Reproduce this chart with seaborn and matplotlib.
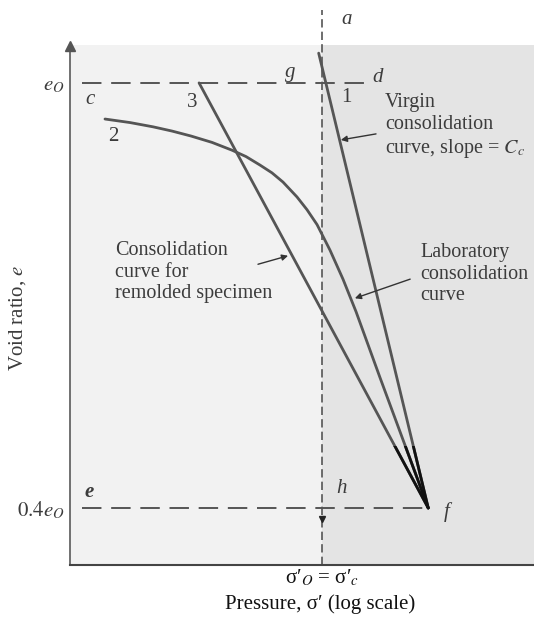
import numpy as np
import pandas as pd
import matplotlib
matplotlib.use("Agg")
import matplotlib.pyplot as plt
import seaborn as sns
from matplotlib.patches import Rectangle

# values (pressure in log scale, void ratio e0 = 1)
e0 = 1.0
e_low = 0.4 * e0
sig_c = 122
p_f = 350

lab_p = [14.15, 18.14, 22.79, 27.53, 33.23, 40.94, 49.93, 57.37, 65.92, 74.25,
         82.82, 95.15, 105.1, 116.1, 132.0, 150.2, 171.0, 216.9, p_f]
lab_e = [0.949, 0.944, 0.938, 0.932, 0.925, 0.916, 0.905, 0.896, 0.884, 0.873,
         0.860, 0.839, 0.821, 0.800, 0.764, 0.723, 0.677, 0.584, e_low]

virgin_p = [118, p_f]
virgin_e = [1.042, e_low]

remold_p = [36, p_f]
remold_e = [e0, e_low]

ytick_vals = [e_low, e0]
ytick_labels = ["$0.4e_O$", "$e_O$"]

sns.set_theme(style="white")
plt.rcParams["font.family"] = ["Liberation Serif", "DejaVu Serif"]
plt.rcParams["mathtext.fontset"] = "stix"

INK = "#3c3c3c"
LINE = "#555555"

fig = plt.figure(figsize=(5.34, 6.21), dpi=100)
ax = fig.add_axes([70 / 534, 1 - 565 / 621, 464 / 534, 565 / 621])
ax.set_xscale("log")
ax.set_xlim(10, 1000)
ax.set_ylim(0.3195, 1.117)
ax.set_facecolor("white")

# scanned stipple shading
ax.axvspan(10, sig_c, ymin=0, ymax=0.92, color="#f2f2f2", lw=0, zorder=0)
ax.axvspan(sig_c, 1000, ymin=0, ymax=0.92, color="#e4e4e4", lw=0, zorder=0)

curves = pd.concat([
    pd.DataFrame({"p": lab_p, "e": lab_e, "curve": "lab"}),
    pd.DataFrame({"p": virgin_p, "e": virgin_e, "curve": "virgin"}),
    pd.DataFrame({"p": remold_p, "e": remold_e, "curve": "remold"}),
])
for name, g in curves.groupby("curve"):
    sns.lineplot(data=g, x="p", y="e", ax=ax, color=LINE, lw=2.0,
                 sort=False, estimator=None, legend=False, zorder=3)
    # darker bits near f
    sns.lineplot(data=g, x="p", y="e", ax=ax, color="#111111", lw=2.0,
                 sort=False, estimator=None, legend=False, zorder=4)
clip = Rectangle((10, 0.3), 990, 0.187, transform=ax.transData, fill=False, lw=0)
for ln in ax.lines[1::2]:
    ln.set_clip_path(clip)

# reference dashed lines
ax.plot([11.3, 187], [e0, e0], color=LINE, lw=1.4, ls=(0, (10, 5)), zorder=2)
ax.plot([11.3, p_f], [e_low, e_low], color=LINE, lw=1.4, ls=(0, (10, 5)), zorder=2)
ax.plot([sig_c, sig_c], [0.3195, 1.103], color=LINE, lw=1.2, ls=(0, (5, 2.5)), zorder=2)
ax.plot([sig_c], [0.385], marker="v", color="#222222", ms=5, zorder=5)

ax.set_xticks([sig_c])
ax.set_xticklabels(["σ′$_O$ = σ′$_c$"], fontsize=15, color="#111111")
ax.xaxis.set_minor_locator(matplotlib.ticker.NullLocator())
ax.set_yticks(ytick_vals)
ax.set_yticklabels(ytick_labels, fontsize=15, color=INK)
ax.tick_params(length=0, pad=4)
ax.tick_params(axis="x", pad=2)

ax.set_xlabel("Pressure, σ′ (log scale)", fontsize=15, color="#111111")
ax.xaxis.set_label_coords(0.539, -0.052)
ax.set_ylabel("Void ratio, $e$", fontsize=15, color=INK)
ax.yaxis.set_label_coords(-0.09, 0.437)

for s in ["top", "right"]:
    ax.spines[s].set_visible(False)
ax.spines["left"].set_color("#666666")
ax.spines["left"].set_linewidth(1.3)
ax.spines["left"].set_bounds(0.3195, 1.05)
ax.spines["bottom"].set_color("#444444")
ax.spines["bottom"].set_linewidth(1.5)
ax.plot([10], [1.052], marker="^", color="#555555", ms=7, clip_on=False, zorder=5)

# letters and numbers
lab_kw = dict(fontsize=15, color=INK, ha="center", va="center")
ax.text(156, 1.089, "a", style="italic", **lab_kw)
ax.text(88.7, 1.0148, "g", style="italic", **lab_kw)
ax.text(212, 1.008, "d", style="italic", **lab_kw)
ax.text(12.2, 0.976, "c", style="italic", **lab_kw)
ax.text(12.1, 0.423, "e", style="italic", weight="bold", **lab_kw)
ax.text(148.6, 0.427, "h", style="italic", **lab_kw)
ax.text(421, 0.394, "f", style="italic", **lab_kw)
ax.text(156, 0.979, "1", **lab_kw)
ax.text(15.3, 0.924, "2", **lab_kw)
ax.text(33.6, 0.972, "3", **lab_kw)

txt_kw = dict(fontsize=14.5, color=INK, ha="left", va="center", linespacing=1.2)
ax.text(228, 0.938, "Virgin\nconsolidation\ncurve, slope = $C_c$", **txt_kw)
ax.text(15.6, 0.733, "Consolidation\ncurve for\nremolded specimen", **txt_kw)
ax.text(323, 0.730, "Laboratory\nconsolidation\ncurve", clip_on=False, **txt_kw)

arr = dict(arrowstyle="-|>", color="#333333", lw=1.0, mutation_scale=9,
           shrinkA=0, shrinkB=0)
ax.annotate("", xy=(147, 0.9195), xytext=(208.5, 0.928), arrowprops=arr)
ax.annotate("", xy=(87.1, 0.756), xytext=(64.6, 0.744), arrowprops=arr)
ax.annotate("", xy=(169, 0.696), xytext=(292.6, 0.723), arrowprops=arr)

fig.savefig("out.png", dpi=100)
